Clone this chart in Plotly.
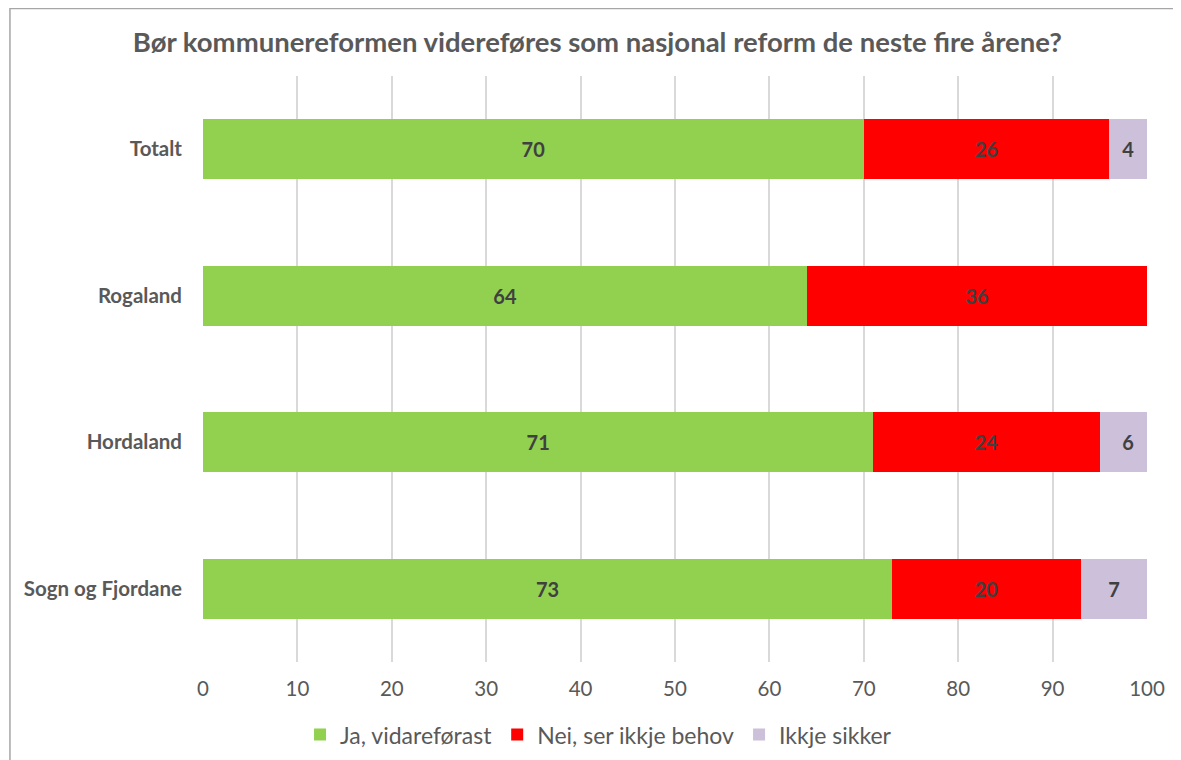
import plotly.graph_objects as go

regions = ['Totalt', 'Rogaland', 'Hordaland', 'Sogn og Fjordane']
ja = [70, 64, 71, 73]
nei = [26, 36, 24, 20]
ikkje = [4, None, 6, 7]

series = [
    ('Ja, vidareførast', ja, '#92D050'),
    ('Nei, ser ikkje behov', nei, '#FF0000'),
    ('Ikkje sikker', ikkje, '#CCC0DA'),
]

fig = go.Figure()
for name, vals, col in series:
    fig.add_trace(go.Bar(
        y=regions, x=vals, name=name, orientation='h',
        marker=dict(color=col, line=dict(width=0)),
        text=[str(v) if v else '' for v in vals],
        textposition='inside', insidetextanchor='middle',
        textfont=dict(family='Lato', size=20, color='#404040', weight='bold'),
        width=0.41,
    ))

fig.update_layout(
    barmode='stack',
    width=1181, height=760,
    margin=dict(l=195, r=42, t=68, b=103),
    paper_bgcolor='white', plot_bgcolor='white',
    title=dict(
        text='<b>Bør kommunereformen videreføres som nasjonal reform de neste fire årene?</b>',
        x=0.499, xanchor='center', y=0.955, yanchor='middle',
        font=dict(family='Lato', size=27.5, color='#595959'),
    ),
    font=dict(family='Lato', color='#595959'),
    legend=dict(
        orientation='h', x=0.419, xanchor='center',
        y=-0.124, yanchor='middle',
        font=dict(size=23, color='#595959'), traceorder='normal',
    ),
    showlegend=True,
)
fig.update_xaxes(
    range=[0, 100], dtick=10, showgrid=True, gridcolor='#D9D9D9', gridwidth=1.5,
    zeroline=False, showline=False, ticks='', tickfont=dict(size=20.5, color='#595959'),
    ticklabelstandoff=12,
)
fig.update_yaxes(
    autorange='reversed', showgrid=False, showline=False, ticks='',
    tickfont=dict(size=20.5, color='#595959', weight='bold'), ticklabelstandoff=20,
)
fig.add_shape(type='rect', xref='paper', yref='paper',
              x0=-0.2045, x1=1.1, y0=-0.25, y1=1.115,
              line=dict(color='#A6A6A6', width=1.5))
fig.write_html('out.html')
